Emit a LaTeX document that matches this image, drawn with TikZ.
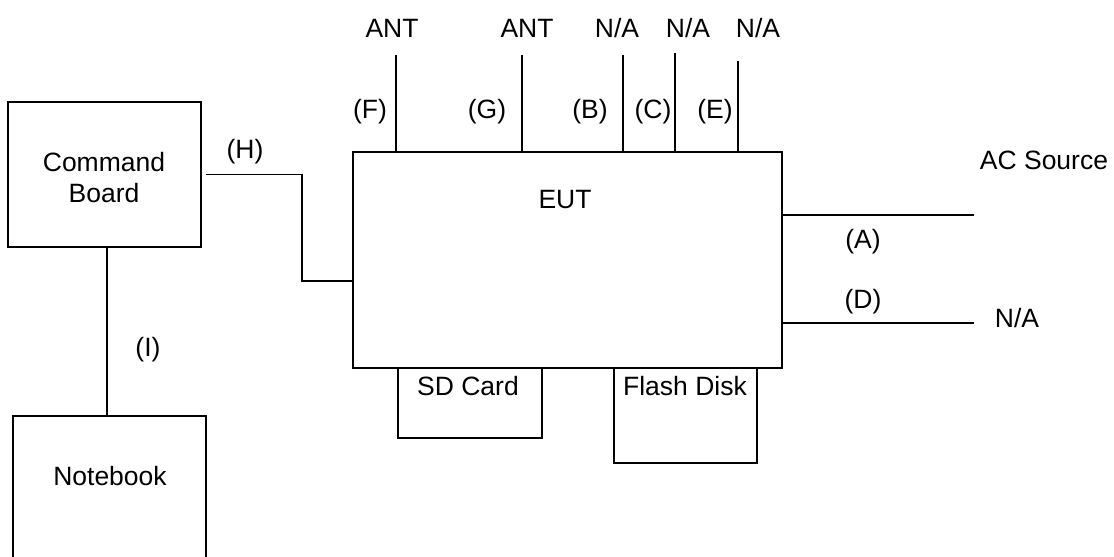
\documentclass[tikz,border=0pt]{standalone}
\usepackage{fontspec}
\setmainfont{Liberation Sans}
\usetikzlibrary{calc}
\begin{document}
\begin{tikzpicture}[x=1pt,y=-1pt,
  box/.style={draw,line width=1.5pt,inner sep=0pt},
  wire/.style={line width=1.5pt},
  lbl/.style={inner sep=0pt,font=\fontsize{26.5}{31}\selectfont}]
\clip (0,0) rectangle (1114,557);
\fill[white] (0,0) rectangle (1114,557);
% boxes
\node[box,minimum width=193pt,minimum height=145pt] (cb) at (104.5,174.5) {};
\node[lbl,align=center] (cbt) at (104,178) {Command\\Board};
\node[box,minimum width=193pt,minimum height=200pt] (nb) at (109.5,516) {};
\node[lbl] (nbt) at (110,476) {Notebook};
\node[box,minimum width=429pt,minimum height=216pt] (eut) at (567.5,260) {};
\node[lbl] (eutt) at (565,200) {EUT};
\node[box,minimum width=144pt,minimum height=70pt] (sd) at (470,403) {};
\node[lbl] (sdt) at (468,386) {SD Card};
\node[box,minimum width=143pt,minimum height=95pt] (fd) at (685.5,415.5) {};
\node[lbl] (fdt) at (685,386) {Flash Disk};
% H connector
\coordinate (hb) at (302,174.5);
\draw[wire] ([xshift=4pt]cb.east) -- (hb) -- (302,281) -- (eut.west |- 0,281);
\node[lbl] (hl) at (245,152) {(H)};
% I connector
\draw[wire] (cb.south -| 107,0) -- (nb.north -| 107,0);
\node[lbl] (il) at (148,350) {(I)};
% antennas
\coordinate (f) at (396,55);
\coordinate (g) at (522,55);
\coordinate (b) at (623,55);
\coordinate (c) at (675,53);
\coordinate (e) at (738,61);
\foreach \p in {f,g,b,c,e} \draw[wire] (eut.north -| \p) -- (\p);
\node[lbl] at (392,28) {ANT};
\node[lbl] at (527,28) {ANT};
\node[lbl] at (617,28) {N/A};
\node[lbl] at (688,28) {N/A};
\node[lbl] at (758,28) {N/A};
\node[lbl] at (370,112) {(F)};
\node[lbl] at (487,112) {(G)};
\node[lbl] at (590,112) {(B)};
\node[lbl] at (653,112) {(C)};
\node[lbl] at (715,112) {(E)};
% right side
\coordinate (aend) at (974,215);
\coordinate (dend) at (974,323);
\draw[wire] (eut.east |- aend) -- (aend);
\draw[wire] (eut.east |- dend) -- (dend);
\node[lbl] at (863,242) {(A)};
\node[lbl] at (863,302) {(D)};
\node[lbl] at (1044,160) {AC Source};
\node[lbl] at (1017,318) {N/A};
\end{tikzpicture}
\end{document}
